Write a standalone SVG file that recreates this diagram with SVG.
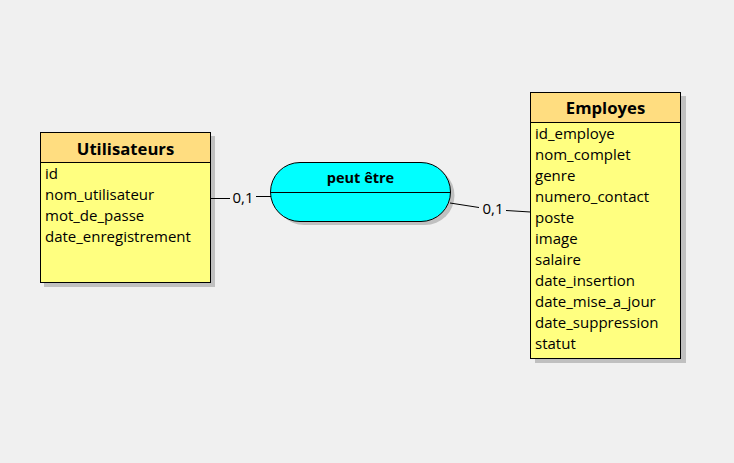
<svg xmlns="http://www.w3.org/2000/svg" width="734" height="463" viewBox="0 0 734 463">
<style>
.shadow{fill:#c0c0c0}
.hdr{fill:#ffdd80;stroke:#000;stroke-width:1}
.body{fill:#ffff80;stroke:#000;stroke-width:1}
.title{font-family:"Open Sans",sans-serif;font-weight:bold;font-size:16.7px;fill:#000;text-anchor:middle}
.attr{font-family:"Open Sans",sans-serif;font-size:15px;fill:#000}
.card{font-family:"Open Sans",sans-serif;font-size:15px;fill:#000;text-anchor:middle}
.link{stroke:#000;stroke-width:1;fill:none}
</style>
<rect width="734" height="463" fill="#f0f0f0"/>
<g id="utilisateurs">
<rect class="shadow" x="44" y="136" width="171" height="151"/>
<rect class="body" x="40.5" y="132.5" width="170" height="150"/>
<rect class="hdr" x="40.5" y="132.5" width="170" height="30"/>
<text class="title" x="125.5" y="155">Utilisateurs</text>
<text class="attr" x="45" y="179">id</text>
<text class="attr" x="45" y="200">nom_utilisateur</text>
<text class="attr" x="45" y="221">mot_de_passe</text>
<text class="attr" x="45" y="242">date_enregistrement</text>
</g>
<g id="peut_etre">
<rect class="shadow" x="274.5" y="166" width="180" height="59" rx="29.5"/>
<rect x="270.5" y="162.5" width="180" height="59" rx="29.5" fill="#00ffff" stroke="#000"/>
<path class="link" d="M270.5 192.5 L450.5 192.5"/>
<text class="title" x="360.5" y="183" style="font-size:14.5px">peut être</text>
</g>
<g id="employes">
<rect class="shadow" x="535" y="96" width="151" height="267"/>
<rect class="body" x="530.5" y="92.5" width="150" height="266"/>
<rect class="hdr" x="530.5" y="92.5" width="150" height="30"/>
<text class="title" x="605.5" y="114">Employes</text>
<text class="attr" x="535" y="139">id_employe</text>
<text class="attr" x="535" y="160">nom_complet</text>
<text class="attr" x="535" y="181">genre</text>
<text class="attr" x="535" y="202">numero_contact</text>
<text class="attr" x="535" y="223">poste</text>
<text class="attr" x="535" y="244">image</text>
<text class="attr" x="535" y="265">salaire</text>
<text class="attr" x="535" y="286">date_insertion</text>
<text class="attr" x="535" y="307">date_mise_a_jour</text>
<text class="attr" x="535" y="328">date_suppression</text>
<text class="attr" x="535" y="349">statut</text>
</g>
<g id="connectors">
<path class="link" d="M210.5 198.5 L230 198.5"/>
<path class="link" d="M256 196.5 L271 196.5"/>
<text class="card" x="243" y="203">0,1</text>
<path class="link" d="M450 203 L479 207.5"/>
<path class="link" d="M506 210.5 L530.5 212"/>
<text class="card" x="493" y="214">0,1</text>
</g>
</svg>
